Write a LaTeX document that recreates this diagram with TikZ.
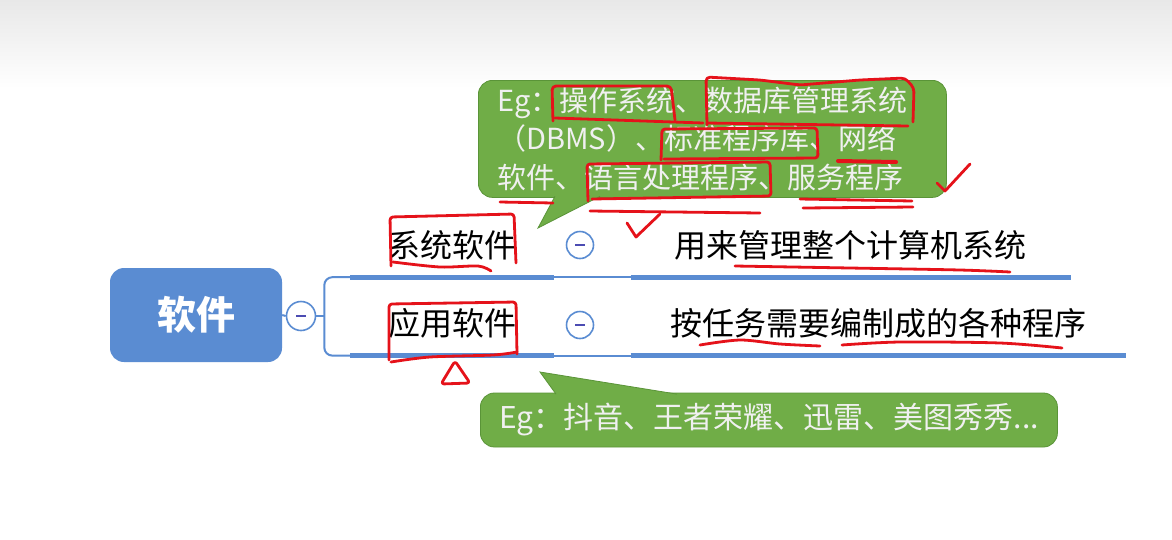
\documentclass[tikz,border=0pt]{standalone}
\usepackage{fontspec}
\setmainfont{Noto Sans CJK SC}
\usetikzlibrary{positioning, calc}

\definecolor{mapblue}{HTML}{5A8CD2}
\definecolor{notegreen}{HTML}{70AD47}
\definecolor{noteedge}{HTML}{5A9438}
\definecolor{penred}{HTML}{E5121A}

\tikzset{
  root/.style={rounded corners=14pt, fill=mapblue, text=white, minimum width=172pt, minimum height=94pt,
    font=\fontsize{39}{42}\selectfont\bfseries},
  topic/.style={minimum width=203pt, minimum height=64pt, inner sep=0pt, font=\fontsize{32}{36}\selectfont},
  desc/.style={minimum height=64pt, inner sep=0pt, font=\fontsize{32}{36}\selectfont},
  toggle/.style={circle, draw=mapblue, line width=1.6pt, fill=white, minimum size=27pt, inner sep=0pt},
  bar/.style={mapblue, line width=5pt},
  link/.style={mapblue, line width=2pt},
  note/.style={rounded corners=14pt, fill=notegreen, draw=noteedge, line width=0.8pt, text=white!94!black,
    inner ysep=0pt, align=left},
  redpen/.style={penred, line width=2.8pt, line cap=round, line join=round},
}

\begin{document}
\begin{tikzpicture}[x=1pt, y=-1pt]
    \useasboundingbox (0,0) rectangle (1172,539);
    \fill[white] (0,0) rectangle (1172,539);
    \shade[top color=black!9, bottom color=white] (0,0) rectangle (1172,88);

    % 根节点
    \node[root] (soft) at (196,315) {软件};
    \node[toggle, minimum size=29pt] (softtog) at (301,316) {};
    \coordinate (fork) at ($(softtog.east)+(8,0)$);

    % 两个分支
    \node[topic] (sys) at (452,245) {系统软件};
    \node[topic, below=14pt of sys] (app) {应用软件};
    \node[desc, minimum width=440pt, right=77pt of sys] (sysdesc) {用来管理整个计算机系统};
    \node[desc, minimum width=495pt, right=77pt of app] (appdesc) {按任务需要编制成的各种程序};
    \node[toggle] (systog) at (580,245) {};
    \node[toggle] (apptog) at (580,325) {};

    % 连线
    \draw[link] (soft.east) -- (softtog.west);
    \draw[link] (softtog.east) -- (fork);
    \draw[link, rounded corners=8pt] (sys.south west) -| (fork) |- (app.south west);
    \foreach \n in {sys, app, sysdesc, appdesc} \draw[bar] (\n.south west) -- (\n.south east);
    \draw[link] (sys.south east) -- (sysdesc.south west);
    \draw[link] (app.south east) -- (appdesc.south west);
    \foreach \t in {softtog, systog, apptog}
        \draw[gray!60!blue, line width=1.6pt] ([xshift=-5pt]\t.center) -- ([xshift=5pt]\t.center);

    % 举例标注
    \node[note, anchor=north west, minimum width=468pt, minimum height=117pt, text width=430pt,
        inner xsep=19pt, font=\fontsize{29}{38.5}\selectfont] (eg1) at (478,80)
        {Eg：操作系统、数据库管理系统\\（DBMS）、标准程序库、网络\\软件、语言处理程序、服务程序};
    \coordinate (t1a) at ($(eg1.south west)+(77,-1.5)$);
    \coordinate (t1b) at ($(eg1.south west)+(122,-1.5)$);
    \coordinate (t1tip) at (538,228);
    \fill[notegreen] (t1a) -- (t1tip) -- (t1b) -- cycle;
    \draw[noteedge, line width=0.8pt] (t1a) -- (t1tip) -- (t1b);

    \node[note, anchor=west, minimum width=577pt, minimum height=54pt, inner xsep=17pt,
        font=\fontsize{30}{36}\selectfont] (eg2) at (480,420) {Eg：抖音、王者荣耀、迅雷、美图秀秀...};
    \coordinate (t2a) at ($(eg2.north west)+(76,1.5)$);
    \coordinate (t2b) at ($(eg2.north west)+(197,1.5)$);
    \coordinate (t2tip) at (540,372);
    \fill[notegreen] (t2a) -- (t2tip) -- (t2b) -- cycle;
    \draw[noteedge, line width=0.8pt] (t2a) -- (t2tip) -- (t2b);

    % 红笔批注
    \draw[redpen, rounded corners=4pt] (553,121) -- (552,86) -- (671,86) -- (675,120);
    \draw[redpen] (555,118) -- (703,123);
    \draw[redpen, rounded corners=4pt] (707,125) -- (706,77) -- (760,80) -- (800,85) -- (860,80) -- (905,78) -- (914,88) -- (913,122);
    \draw[redpen] (707,123) -- (908,126);
    \draw[redpen, rounded corners=3pt] (661,160) -- (662,129) -- (817,128) -- (818,158) -- (664,159);
    \draw[redpen, line width=4pt] (838,161) -- (896,162);
    \draw[redpen] (500,202) -- (553,203);
    \draw[redpen, rounded corners=3pt] (588,201) -- (587,164) -- (770,162) -- (771,196) -- (592,199);
    \draw[redpen] (590,211) -- (760,213);
    \draw[redpen] (800,199) -- (912,201);
    \draw[redpen] (803,208) -- (913,207);
    \draw[redpen] (937,183) -- (945,191) -- (970,164);
    \draw[redpen] (627,223) -- (636,237) -- (660,214);
    \draw[redpen, rounded corners=3pt] (391,266) -- (390,217) -- (514,214) -- (516,263);
    \draw[redpen] plot[smooth] coordinates {(393,262) (440,267) (478,266) (491,271)};
    \draw[redpen, rounded corners=3pt] (389,360) -- (389,304) -- (516,302) -- (517,354);
    \draw[redpen] plot[smooth] coordinates {(391,362) (430,357) (493,355) (517,352)};
    \draw[redpen, rounded corners=3pt] (455,361) -- (441,384) -- (470,383) -- cycle;
    \draw[redpen] plot[smooth] coordinates {(735,266) (850,268) (960,270) (1010,272)};
    \draw[redpen] plot[smooth] coordinates {(700,345) (740,340) (780,344) (820,346)};
    \draw[redpen] plot[smooth] coordinates {(842,345) (900,342) (1000,343) (1062,348)};
\end{tikzpicture}
\end{document}
